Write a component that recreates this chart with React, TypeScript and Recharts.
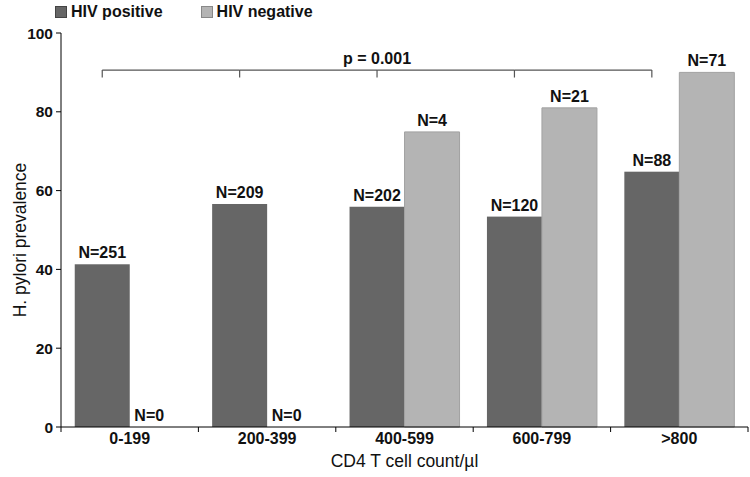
import React from 'react';
import { BarChart, Bar, XAxis, YAxis, LabelList } from 'recharts';

const CATEGORIES = ['0-199', '200-399', '400-599', '600-799', '>800'];
const HIV_POS = [41.3, 56.6, 55.9, 53.4, 64.8];
const HIV_NEG = [0, 0, 74.9, 81.0, 90.0];
const N_POS = [251, 209, 202, 120, 88];
const N_NEG = [0, 0, 4, 21, 71];
const Y_TICKS = [0, 20, 40, 60, 80, 100];
const SERIES_NAMES = ['HIV positive', 'HIV negative'];
const X_TITLE = 'CD4 T cell count/µl';
const Y_TITLE = 'H. pylori prevalence';
const P_TEXT = 'p = 0.001';
const BRACKET_LEVEL = 90.6;

const CHART_W = 750;
const CHART_H = 477;
const MARGIN = { top: 33, right: 2, bottom: 0, left: 0 };
const YAXIS_W = 61;
const XAXIS_H = 50;
const PLOT_W = CHART_W - MARGIN.left - MARGIN.right - YAXIS_W;
const CAT_W = PLOT_W / CATEGORIES.length;
const X_TICK_SIZE = 5;
const X_TICK_MARGIN = 1;
const BRACKET_TICK = 7.5;
const ZERO_LABEL_SHIFT = -8;

const FONT = "'Liberation Sans', Arial, sans-serif";
const DARK = '#666666';
const LIGHT = '#b4b4b4';
const COLORS = [DARK, LIGHT];
const BORDERS = ['#444', '#888'];

const data = CATEGORIES.map((c, i) => ({
  cat: c,
  pos: HIV_POS[i],
  neg: HIV_NEG[i],
  nNeg: N_NEG[i],
  posLabel: `N=${N_POS[i]}`,
  negLabel: `N=${N_NEG[i]}`,
}));

const labelStyle = { fontFamily: FONT, fontWeight: 'bold' as const, fontSize: 16, fill: '#111' };

const PosShape = (props: any) => {
  const { x, y, width, height, fill, index, payload } = props;
  const v = payload.pos;
  const base = y + height;
  const ppu = height / v;
  const by = base - BRACKET_LEVEL * ppu;
  const cx = x + width / 2;
  const n = CATEGORIES.length;
  const mid = (n - 1) / 2;
  return (
    <g>
      <rect x={x} y={y} width={width} height={height} fill={fill} />
      <line x1={cx} y1={by} x2={cx} y2={by + BRACKET_TICK} stroke="#555" strokeWidth={1.2} />
      {index < n - 1 && (
        <line x1={cx} y1={by} x2={cx + CAT_W} y2={by} stroke="#555" strokeWidth={1.2} />
      )}
      {index === Math.floor(n / 2) && (
        <text x={cx + (mid - index) * CAT_W} y={by - 6} textAnchor="middle" {...labelStyle}>
          {P_TEXT}
        </text>
      )}
      {payload.neg === 0 && (
        <text
          x={x + width * 1.5 + ZERO_LABEL_SHIFT}
          y={base - 6}
          textAnchor="middle"
          {...labelStyle}
        >
          {payload.negLabel}
        </text>
      )}
    </g>
  );
};

const XTick = (props: any) => {
  const { x, y, payload } = props;
  const axisY = y - X_TICK_SIZE - X_TICK_MARGIN;
  const half = CAT_W / 2;
  return (
    <g>
      {payload.index === 0 && (
        <line x1={x - half} y1={axisY} x2={x - half} y2={axisY + X_TICK_SIZE} stroke="#000" />
      )}
      <line x1={x + half} y1={axisY} x2={x + half} y2={axisY + X_TICK_SIZE} stroke="#000" />
      <text x={x} y={y} dy="0.71em" textAnchor="middle" {...labelStyle}>
        {payload.value}
      </text>
    </g>
  );
};

const HtmlLegend = () => (
  <div
    style={{
      position: 'absolute',
      left: 55,
      top: 0,
      display: 'flex',
      alignItems: 'center',
      height: 24,
      fontFamily: FONT,
    }}
  >
    {SERIES_NAMES.map((name, i) => (
      <div key={name} style={{ display: 'flex', alignItems: 'center', marginRight: 38 }}>
        <div
          style={{
            width: 10,
            height: 10,
            background: COLORS[i],
            border: `1px solid ${BORDERS[i]}`,
            marginRight: 4,
          }}
        />
        <span style={{ fontSize: 16, fontWeight: 'bold', lineHeight: '24px', color: '#111' }}>{name}</span>
      </div>
    ))}
  </div>
);

export default function App() {
  return (
    <div style={{ position: 'absolute', left: 0, top: 0, width: CHART_W, height: CHART_H, background: '#fff' }}>
      <BarChart
        width={CHART_W}
        height={CHART_H}
        data={data}
        margin={MARGIN}
        barCategoryGap="10%"
        barGap={0}
      >
        <XAxis
          dataKey="cat"
          height={XAXIS_H}
          tickLine={false}
          tickSize={X_TICK_SIZE}
          tickMargin={X_TICK_MARGIN}
          axisLine={{ stroke: '#000' }}
          tick={<XTick />}
          interval={0}
          label={{
            content: (p: any) => {
              const vb = p.viewBox;
              return (
                <text
                  x={vb.x + vb.width / 2}
                  y={vb.y + 40}
                  textAnchor="middle"
                  fontFamily={FONT}
                  fontSize={17.5}
                  fill="#111"
                >
                  {X_TITLE}
                </text>
              );
            },
          }}
        />
        <XAxis xAxisId="top" orientation="top" dataKey="cat" height={0} tick={false} tickLine={false} axisLine={{ stroke: '#555' }} />
        <YAxis
          width={YAXIS_W}
          domain={[0, 100]}
          ticks={Y_TICKS}
          tickSize={5}
          tickMargin={3}
          tickLine={{ stroke: '#000' }}
          axisLine={{ stroke: '#000' }}
          tick={{ fontFamily: FONT, fontWeight: 'bold', fontSize: 15.5, fill: '#111' }}
          label={{
            content: (p: any) => {
              const vb = p.viewBox;
              const cx = vb.x + 20;
              const cy = vb.y + vb.height / 2 + 10;
              return (
                <text
                  x={cx}
                  y={cy}
                  transform={`rotate(-90, ${cx}, ${cy})`}
                  textAnchor="middle"
                  dominantBaseline="central"
                  fontFamily={FONT}
                  fontSize={17.5}
                  fill="#111"
                >
                  {Y_TITLE}
                </text>
              );
            },
          }}
        />
        <YAxis yAxisId="right" orientation="right" width={0} domain={[0, 100]} tick={false} tickLine={false} axisLine={{ stroke: '#555' }} />
        <Bar dataKey="pos" name={SERIES_NAMES[0]} fill={DARK} isAnimationActive={false} shape={<PosShape />}>
          <LabelList dataKey="posLabel" position="top" offset={6} style={labelStyle} />
        </Bar>
        <Bar dataKey="neg" name={SERIES_NAMES[1]} fill={LIGHT} stroke="#a2a2a2" strokeWidth={1} isAnimationActive={false}>
          <LabelList dataKey="negLabel" position="top" offset={6} style={labelStyle} />
        </Bar>
      </BarChart>
      <HtmlLegend />
    </div>
  );
}
